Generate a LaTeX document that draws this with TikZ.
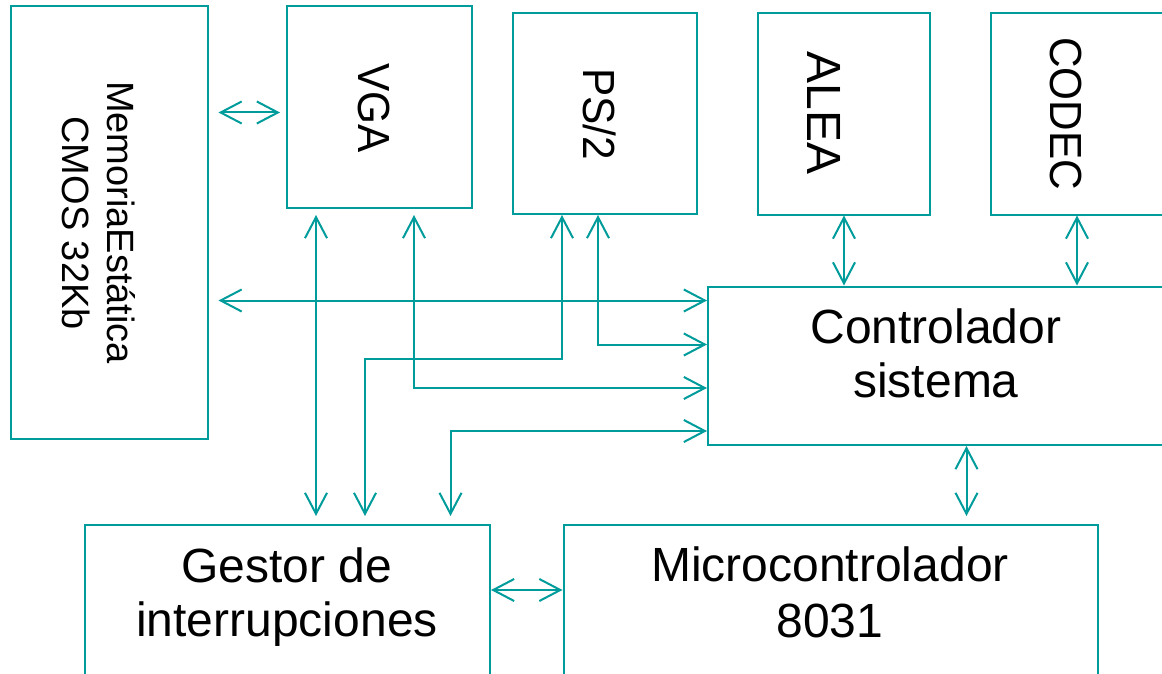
\documentclass[tikz,border=0pt]{standalone}
\usepackage{fontspec}
\setmainfont{Liberation Sans}
\newfontfamily\condfont[FakeStretch=0.94]{Liberation Sans}
\usetikzlibrary{arrows.meta}
\definecolor{teal1}{RGB}{0,155,155}
\tikzset{
  box/.style={draw=teal1, line width=2pt, inner sep=0pt, fill=none},
  bi/.style={draw=teal1, line width=2pt, {Straight Barb[length=21pt,width=22pt]}-{Straight Barb[length=21pt,width=22pt]}},
  big/.style={font=\fontsize{48}{54}\selectfont, anchor=base, inner sep=0pt},
  rot/.style={rotate=-90, anchor=base, inner sep=0pt},
}
\begin{document}
\begin{tikzpicture}[x=1pt,y=-1pt]
\useasboundingbox (0,0) rectangle (1162,674);
\clip (0,0) rectangle (1162,674);
% boxes
\node[box, minimum width=197pt, minimum height=432.5pt] (mem) at (109,222.25) {};
\node[box, minimum width=184.5pt, minimum height=202pt] (vga) at (379.25,107) {};
\node[box, minimum width=184pt, minimum height=201pt] (ps2) at (604.5,113.5) {};
\node[box, minimum width=172pt, minimum height=201.5pt] (alea) at (843.5,113.75) {};
\node[box, minimum width=189pt, minimum height=201.5pt] (codec) at (1085.5,113.75) {};
\node[box, minimum width=472pt, minimum height=158.5pt] (ctrl) at (944,365.75) {};
\node[box, minimum width=405.5pt, minimum height=175.5pt] (gest) at (287.25,612.25) {};
\node[box, minimum width=534pt, minimum height=175.5pt] (micro) at (830.5,612.25) {};
% texts
\node[rot, font=\fontsize{38}{46}\selectfont] (memA) at (107,222.5) {MemoriaEstática};
\node[rot, font=\fontsize{38}{46}\selectfont] (memB) at (62,223) {CMOS 32Kb};
\node[rot, font=\condfont\fontsize{45}{50}\selectfont] (vgaT) at (358,108) {VGA};
\node[rot, font=\condfont\fontsize{45}{50}\selectfont] (ps2T) at (583,114) {PS/2};
\node[rot, font=\fontsize{48}{54}\selectfont] (aleaT) at (807,113) {ALEA};
\node[rot, font=\condfont\fontsize{45}{50}\selectfont] (codecT) at (1050,113.5) {CODEC};
\node[big] (ctrlA) at (936,343) {Controlador};
\node[big] (ctrlB) at (936,397) {sistema};
\node[big] (gestA) at (287,582) {Gestor de};
\node[big] (gestB) at (287,636) {interrupciones};
\node[big] (microA) at (830,581) {Microcontrolador};
\node[big] (microB) at (830,637) {8031};
% connectors
\draw[bi, shorten <=10pt, shorten >=6pt] (mem.east |- 0,112.5) -- (vga.west |- 0,112.5);
\draw[bi, shorten <=10pt] (mem.east |- 0,300.5) -- (ctrl.west |- 0,300.5);
\draw[bi, shorten <=6pt, shorten >=7.5pt] (vga.south -| 316,0) -- (gest.north -| 316,0);
\draw[bi, shorten <=6pt] (vga.south -| 414,0) |- (ctrl.west |- 0,388);
\draw[bi, shorten >=7.5pt] (ps2.south -| 562,0) -- (562,359) -| (gest.north -| 365,0);
\draw[bi] (ps2.south -| 598,0) |- (ctrl.west |- 0,344.5);
\draw[bi, shorten <=7.5pt] (gest.north -| 450.5,0) |- (ctrl.west |- 0,431);
\draw[bi] (alea.south -| 844,0) -- (ctrl.north -| 844,0);
\draw[bi] (codec.south -| 1077,0) -- (ctrl.north -| 1077,0);
\draw[bi, shorten >=7.5pt] (ctrl.south -| 966.5,0) -- (micro.north -| 966.5,0);
\draw[bi] (gest.east |- 0,590) -- (micro.west |- 0,590);
\end{tikzpicture}
\end{document}
